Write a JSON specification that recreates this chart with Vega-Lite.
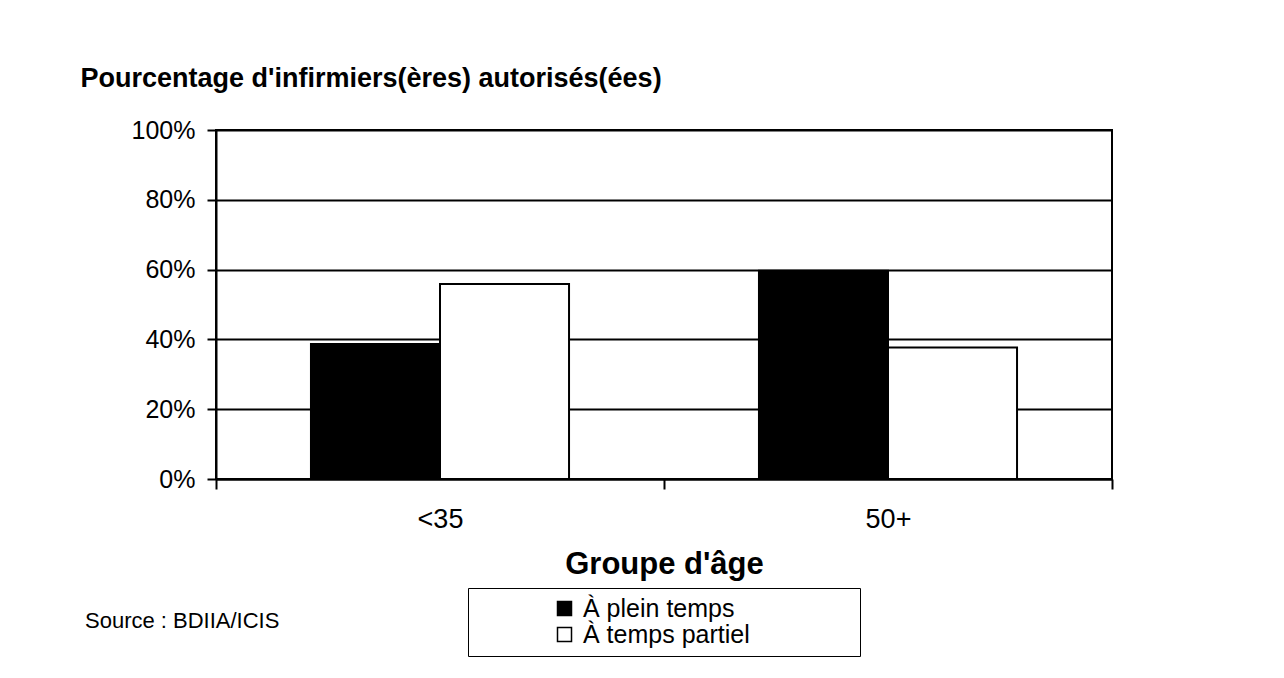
{
  "$schema": "https://vega.github.io/schema/vega-lite/v6.json",
  "width": 896,
  "height": 349,
  "autosize": {"type": "none"},
  "padding": {"left": 216, "top": 130, "right": 172, "bottom": 199},
  "background": "white",
  "config": {
    "font": "Liberation Sans",
    "view": {"stroke": "black", "strokeWidth": 2}
  },
  "title": {
    "text": "Source : BDIIA/ICIS",
    "orient": "bottom",
    "anchor": "start",
    "frame": "group",
    "dx": -131,
    "dy": -50,
    "fontSize": 22,
    "fontWeight": "normal",
    "font": "Liberation Sans",
    "color": "black"
  },
  "data": {
    "values": [
      {"age": "<35", "type": "À plein temps", "pct": 0.387},
      {"age": "<35", "type": "À temps partiel", "pct": 0.559},
      {"age": "50+", "type": "À plein temps", "pct": 0.597},
      {"age": "50+", "type": "À temps partiel", "pct": 0.377}
    ]
  },
  "mark": {"type": "bar", "stroke": "black", "strokeWidth": 2},
  "encoding": {
    "x": {
      "field": "age",
      "type": "nominal",
      "sort": ["<35", "50+"],
      "scale": {"paddingInner": 0, "paddingOuter": 0},
      "axis": {
        "title": "Groupe d'âge",
        "titleFontSize": 31,
        "titleFontWeight": "bold",
        "titleColor": "black",
        "titlePadding": 17,
        "labelAngle": 0,
        "labelFontSize": 27,
        "labelColor": "black",
        "labelPadding": 17,
        "tickBand": "extent",
        "tickSize": 10,
        "tickWidth": 2,
        "tickColor": "black",
        "domainColor": "black",
        "domainWidth": 2
      }
    },
    "xOffset": {
      "field": "type",
      "type": "nominal",
      "sort": ["À plein temps", "À temps partiel"],
      "scale": {"paddingInner": 0, "paddingOuter": 0.736}
    },
    "y": {
      "field": "pct",
      "type": "quantitative",
      "scale": {"domain": [0, 1]},
      "axis": {
        "values": [0, 0.2, 0.4, 0.6, 0.8, 1],
        "format": ".0%",
        "title": "Pourcentage d'infirmiers(ères) autorisés(ées)",
        "titleAngle": 0,
        "titleAlign": "left",
        "titleBaseline": "alphabetic",
        "titleX": -136,
        "titleY": -44,
        "titleFontSize": 27,
        "titleFontWeight": "bold",
        "titleColor": "black",
        "labelFontSize": 25,
        "labelColor": "black",
        "labelPadding": 12,
        "tickSize": 9,
        "tickWidth": 2,
        "tickColor": "black",
        "domainColor": "black",
        "domainWidth": 2,
        "grid": true,
        "gridColor": "black",
        "gridWidth": 2,
        "gridOpacity": 1
      }
    },
    "color": {
      "field": "type",
      "type": "nominal",
      "scale": {"domain": ["À plein temps", "À temps partiel"], "range": ["black", "white"]},
      "legend": {
        "title": "\u00a0",
        "titleOrient": "right",
        "titlePadding": 102,
        "titleFontSize": 10,
        "orient": "none",
        "legendX": 252,
        "legendY": 458,
        "direction": "vertical",
        "symbolType": "square",
        "symbolSize": 196,
        "symbolStrokeColor": "black",
        "symbolStrokeWidth": 1.5,
        "symbolOffset": 76,
        "labelFontSize": 25,
        "labelLimit": 400,
        "labelColor": "black",
        "labelOffset": 6,
        "rowPadding": 0,
        "padding": 8,
        "strokeColor": "black",
        "fillColor": "white"
      }
    }
  }
}
